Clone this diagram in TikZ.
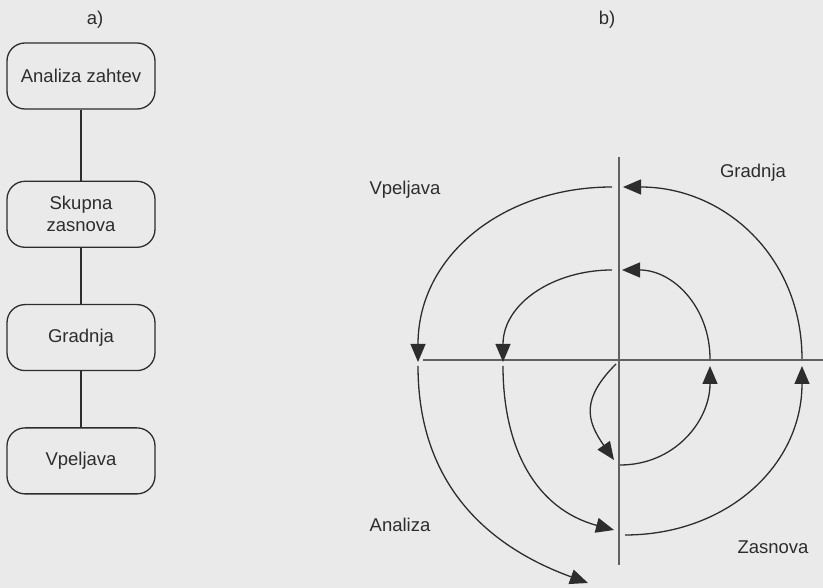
\documentclass[tikz,border=0pt]{standalone}
\usepackage{fontspec}
\setmainfont{Liberation Sans}
\usepackage{xcolor}
\usetikzlibrary{arrows.meta,positioning}
\definecolor{paper}{RGB}{234,234,234}
\definecolor{ink}{RGB}{45,45,45}
\begin{document}
\begin{tikzpicture}[
		x=1pt, y=1pt,
		>={Triangle[length=18pt,width=15pt]},
		every node/.style={font=\fontsize{18.5}{22}\selectfont, text=ink},
		stage/.style={rounded corners=18pt, draw=ink, line width=1.3pt, align=center, minimum width=148pt, minimum height=66pt},
		axis/.style={draw=ink!75, line width=1.3pt},
		loop/.style={draw=ink, line width=1.3pt, ->, looseness=1.05}
		]
		\fill[paper] (0,0) rectangle (823,588);
		\useasboundingbox (0,0) rectangle (823,588);
		
		% a) linear sequence
		\node (lbla) at (95,568) {a)};
		\node[stage] (req) at (81,512) {Analiza zahtev};
		\node[stage, below=71pt of req] (concept) {Skupna\\zasnova};
		\node[stage, below=56pt of concept] (build) {Gradnja};
		\node[stage, below=56pt of build] (deploy) {Vpeljava};
		
		\draw[ink, line width=1.3pt] (req) -- (concept);
		\draw[ink, line width=1.3pt] (concept) -- (build);
		\draw[ink, line width=1.3pt] (build) -- (deploy);
		
		% b) spiral
		\node (lblb) at (607,568) {b)};
		\coordinate (vtop) at (619,431);
		\coordinate (vbot) at (619,23);
		\coordinate (hleft) at (423,228);
		\coordinate (hright) at (823,228);
		\draw[axis] (vtop) -- (vbot);
		\draw[axis] (hleft) -- (hright);
		
		\node (qvp) at (405,398) {Vpeljava};
		\node (qgr) at (753,415) {Gradnja};
		\node (qan) at (400,63) {Analiza};
		\node (qza) at (773,41) {Zasnova};
		
		\coordinate (c0) at (616,224);
		\coordinate (c1) at (614,128);
		\coordinate (c2) at (620,123);
		\coordinate (c3) at (710,222);
		\coordinate (c4) at (710,229);
		\coordinate (c5) at (622,318);
		\coordinate (c6) at (612,318);
		\coordinate (c7) at (503,226);
		\coordinate (c8) at (503,222);
		\coordinate (c9) at (614,58);
		\coordinate (d0) at (625,53);
		\coordinate (d1) at (802,222);
		\coordinate (d2) at (802,229);
		\coordinate (d3) at (623,401);
		\coordinate (d4) at (612,401);
		\coordinate (d5) at (418,226);
		\coordinate (d6) at (418,222);
		\coordinate (d7) at (588,5);
		
		\draw[loop, looseness=1.3] (c0) to[out=-135,in=125] (c1);
		\draw[loop] (c2) to[out=0,in=-90] (c3);
		\draw[loop] (c4) to[out=90,in=0] (c5);
		\draw[loop] (c6) to[out=180,in=90] (c7);
		\draw[loop] (c8) to[out=-90,in=165] (c9);
		\draw[loop] (d0) to[out=0,in=-90] (d1);
		\draw[loop] (d2) to[out=90,in=0] (d3);
		\draw[loop] (d4) to[out=180,in=90] (d5);
		\draw[loop] (d6) to[out=-90,in=160] (d7);
		
	\end{tikzpicture}
\end{document}
